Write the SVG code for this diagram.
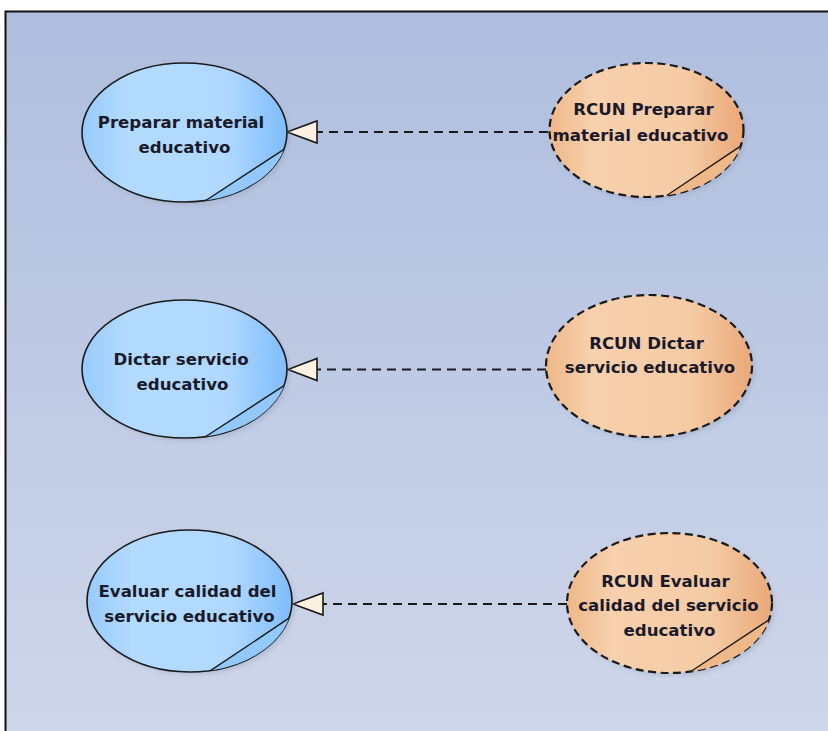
<svg xmlns="http://www.w3.org/2000/svg" width="828" height="731" viewBox="0 0 828 731">
  <style>
    .uc-blue { fill: url(#gBlue); stroke: #1a1a1a; stroke-width: 1.6; }
    .uc-orange { fill: url(#gOrange); stroke: #1a1a1a; stroke-width: 2.2; stroke-dasharray: 8 4.5; }
    .fold-blue { fill: #93c8fa; stroke: none; }
    .fold-orange { fill: #efb888; stroke: none; }
    .fold-line { fill: none; stroke: #1a1a1a; stroke-width: 1.4; }
    .shadow { fill: #8f9bb5; opacity: 0.35; filter: url(#soft); }
    .lbl { font-family: "DejaVu Sans", Verdana, sans-serif; font-weight: bold; font-size: 16.6px; fill: #1a1a2a; text-anchor: middle; }
    .realize { fill: none; stroke: #1a1a1a; stroke-width: 1.8; stroke-dasharray: 9 6; }
    .head { fill: #fdf2e2; stroke: #1a1a1a; stroke-width: 1.6; stroke-linejoin: miter; }
  </style>
  <defs>
    <linearGradient id="gBg" x1="0" y1="0" x2="0" y2="1">
      <stop offset="0" stop-color="#afbedf"/>
      <stop offset="1" stop-color="#ced6e9"/>
    </linearGradient>
    <linearGradient id="gBlue" x1="0" y1="0" x2="1" y2="0">
      <stop offset="0" stop-color="#96cbfd"/>
      <stop offset="0.22" stop-color="#b3daff"/>
      <stop offset="0.7" stop-color="#b1d8ff"/>
      <stop offset="1" stop-color="#7fbdfb"/>
    </linearGradient>
    <linearGradient id="gOrange" x1="0" y1="0" x2="1" y2="0">
      <stop offset="0" stop-color="#efb888"/>
      <stop offset="0.22" stop-color="#f7d0ad"/>
      <stop offset="0.7" stop-color="#f5cba5"/>
      <stop offset="1" stop-color="#eaa878"/>
    </linearGradient>
    <filter id="soft" x="-10%" y="-10%" width="120%" height="120%">
      <feGaussianBlur stdDeviation="2"/>
    </filter>
  </defs>

  <!-- canvas and frame -->
  <rect x="0" y="0" width="828" height="731" fill="#ffffff"/>
  <rect x="5" y="11" width="823" height="720" fill="url(#gBg)"/>
  <path d="M5.5 731 V11.5 H828" fill="none" stroke="#111111" stroke-width="2"/>

  <!-- realization connectors -->
  <g id="connectors">
    <line class="realize" x1="548" y1="132" x2="317" y2="132"/>
    <polygon class="head" points="287,132 317,121 317,143"/>
    <line class="realize" x1="546" y1="369.5" x2="317" y2="369.5"/>
    <polygon class="head" points="288,369.5 317,358.5 317,380.5"/>
    <line class="realize" x1="567" y1="604" x2="323" y2="604"/>
    <polygon class="head" points="293,604 323,593 323,615"/>
  </g>

  <!-- use cases -->
  <g id="uc-preparar">
    <ellipse class="shadow" cx="187.5" cy="135.5" rx="102.5" ry="69.5"/>
    <ellipse class="uc-blue" cx="184.5" cy="132.5" rx="102.5" ry="69.5"/>
    <path class="fold-blue" d="M284 149.3 A102.5 69.5 0 0 1 205.8 200.5 Z"/>
    <path class="fold-line" d="M284 149.3 L205.8 200.5"/>
    <text class="lbl" x="181" y="128">Preparar material</text>
    <text class="lbl" x="184.5" y="152.5">educativo</text>
  </g>

  <g id="uc-rcun-preparar">
    <ellipse class="shadow" cx="649.5" cy="133" rx="97" ry="67"/>
    <ellipse class="uc-orange" cx="646.5" cy="130" rx="97" ry="67"/>
    <path class="fold-orange" d="M740.6 146.2 A97 67 0 0 1 666.7 195.5 Z"/>
    <path class="fold-line" d="M740.6 146.2 L666.7 195.5"/>
    <text class="lbl" x="643.5" y="115">RCUN Preparar</text>
    <text class="lbl" x="640.5" y="141">material educativo</text>
  </g>

  <g id="uc-dictar">
    <ellipse class="shadow" cx="187.5" cy="372" rx="102.5" ry="69"/>
    <ellipse class="uc-blue" cx="184.5" cy="369" rx="102.5" ry="69"/>
    <path class="fold-blue" d="M284 385.7 A102.5 69 0 0 1 205.8 436.5 Z"/>
    <path class="fold-line" d="M284 385.7 L205.8 436.5"/>
    <text class="lbl" x="181" y="365">Dictar servicio</text>
    <text class="lbl" x="182.5" y="390">educativo</text>
  </g>

  <g id="uc-rcun-dictar">
    <ellipse class="shadow" cx="652" cy="369" rx="103" ry="71"/>
    <ellipse class="uc-orange" cx="649" cy="366" rx="103" ry="71"/>
    <text class="lbl" x="646.5" y="349">RCUN Dictar</text>
    <text class="lbl" x="650" y="373">servicio educativo</text>
  </g>

  <g id="uc-evaluar">
    <ellipse class="shadow" cx="192.5" cy="604" rx="102.5" ry="71"/>
    <ellipse class="uc-blue" cx="189.5" cy="601" rx="102.5" ry="71"/>
    <path class="fold-blue" d="M289 618.2 A102.5 71 0 0 1 210.8 670.4 Z"/>
    <path class="fold-line" d="M289 618.2 L210.8 670.4"/>
    <text class="lbl" x="187.5" y="597">Evaluar calidad del</text>
    <text class="lbl" x="189.5" y="622">servicio educativo</text>
  </g>

  <g id="uc-rcun-evaluar">
    <ellipse class="shadow" cx="672.5" cy="606" rx="102.5" ry="70"/>
    <ellipse class="uc-orange" cx="669.5" cy="603" rx="102.5" ry="70"/>
    <path class="fold-orange" d="M769 619.9 A102.5 70 0 0 1 690.8 671.5 Z"/>
    <path class="fold-line" d="M769 619.9 L690.8 671.5"/>
    <text class="lbl" x="665.5" y="587">RCUN Evaluar</text>
    <text class="lbl" x="668.5" y="611">calidad del servicio</text>
    <text class="lbl" x="669.5" y="636">educativo</text>
  </g>
</svg>
